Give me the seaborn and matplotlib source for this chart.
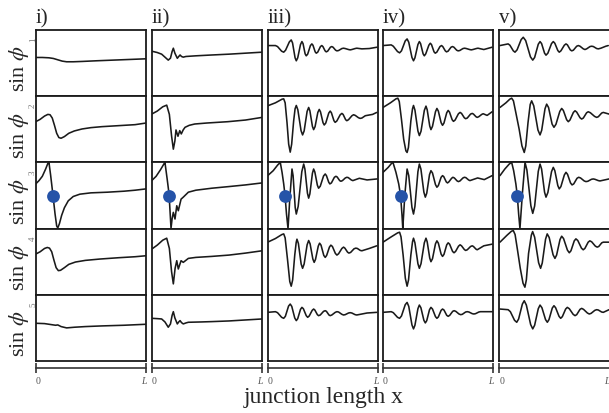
import matplotlib
matplotlib.use('Agg')
import matplotlib.pyplot as plt
import seaborn as sns

# ---- data: (x in units of L, sin(phi) in panel units) ----
col_titles = ['i)', 'ii)', 'iii)', 'iv)', 'v)']
row_names = [r'sin $\phi$'] * 5
row_subs = ['1', '2', '3', '4', '5']

# column i
c1_r1 = [(0, 0.17), (0.06, 0.17), (0.12, 0.16), (0.16, 0.14), (0.2, 0.1), (0.24, 0.06), (0.28, 0.04), (0.34, 0.04),
         (0.42, 0.05), (0.55, 0.07), (0.7, 0.09), (0.85, 0.11), (1.0, 0.13)]
c1_r2 = [(0, 0.23), (0.04, 0.3), (0.08, 0.4), (0.11, 0.45), (0.13, 0.44), (0.15, 0.34), (0.17, 0.12), (0.19, -0.12),
         (0.21, -0.25), (0.23, -0.27), (0.26, -0.22), (0.3, -0.12), (0.35, -0.05), (0.42, 0.01), (0.5, 0.05),
         (0.6, 0.08), (0.75, 0.11), (0.9, 0.14), (1.0, 0.19)]
c1_r3 = [(0, 0.35), (0.03, 0.45), (0.06, 0.58), (0.09, 0.8), (0.11, 0.97), (0.12, 1.0), (0.135, 0.62), (0.155, 0.05),
         (0.175, -0.55), (0.19, -0.92), (0.2, -0.98), (0.215, -0.85), (0.235, -0.6), (0.26, -0.37), (0.295, -0.16),
         (0.34, -0.03), (0.4, 0.04), (0.5, 0.08), (0.65, 0.1), (0.8, 0.13), (0.9, 0.16), (1.0, 0.2)]
c1_r4 = [(0, 0.23), (0.04, 0.3), (0.08, 0.4), (0.105, 0.43), (0.125, 0.41), (0.145, 0.3), (0.165, 0.05), (0.185, -0.18),
         (0.205, -0.27), (0.225, -0.26), (0.26, -0.18), (0.3, -0.08), (0.36, -0.01), (0.45, 0.04), (0.58, 0.08),
         (0.75, 0.12), (0.9, 0.15), (1.0, 0.18)]
c1_r5 = [(0, 0.14), (0.08, 0.13), (0.14, 0.1), (0.18, 0.08), (0.2, 0.09), (0.23, 0.04), (0.28, 0.0), (0.35, 0.02),
         (0.45, 0.04), (0.6, 0.06), (0.8, 0.08), (1.0, 0.11)]

# column ii
c2_r1 = [(0, 0.36), (0.05, 0.32), (0.09, 0.27), (0.12, 0.18), (0.15, 0.09), (0.17, 0.15), (0.185, 0.35), (0.196, 0.45),
         (0.21, 0.3), (0.232, 0.145), (0.245, 0.2), (0.257, 0.245), (0.27, 0.2), (0.286, 0.18), (0.31, 0.2),
         (0.332, 0.205), (0.4, 0.22), (0.544, 0.245), (0.7, 0.27), (0.85, 0.3), (1.0, 0.33)]
c2_r2 = [(0, 0.46), (0.05, 0.55), (0.1, 0.68), (0.136, 0.73), (0.16, 0.45), (0.18, -0.2), (0.196, -0.6), (0.21, -0.35),
         (0.22, -0.02), (0.238, -0.21), (0.254, -0.04), (0.268, -0.14), (0.285, -0.02), (0.302, 0.06), (0.34, 0.12),
         (0.39, 0.16), (0.5, 0.19), (0.69, 0.23), (0.85, 0.28), (1.0, 0.36)]
c2_r3 = [(0, 0.45), (0.04, 0.58), (0.08, 0.78), (0.11, 0.95), (0.12, 1.0), (0.14, 0.5), (0.157, 0.05), (0.175, -0.99),
         (0.185, -0.7), (0.196, -0.51), (0.211, -0.71), (0.227, -0.31), (0.241, -0.46), (0.266, -0.11), (0.286, -0.05),
         (0.332, 0.1), (0.4, 0.16), (0.544, 0.22), (0.7, 0.27), (0.85, 0.32), (1.0, 0.38)]
c2_r4 = [(0, 0.38), (0.05, 0.5), (0.1, 0.65), (0.136, 0.71), (0.16, 0.4), (0.18, -0.3), (0.196, -0.67), (0.212, -0.2),
         (0.227, 0.03), (0.241, -0.22), (0.266, 0.03), (0.286, -0.02), (0.332, 0.1), (0.4, 0.13), (0.544, 0.16),
         (0.7, 0.2), (0.85, 0.26), (1.0, 0.33)]
c2_r5 = [(0, 0.29), (0.05, 0.28), (0.09, 0.27), (0.12, 0.18), (0.15, 0.02), (0.17, 0.12), (0.185, 0.38), (0.196, 0.49),
         (0.21, 0.3), (0.232, 0.12), (0.245, 0.18), (0.257, 0.22), (0.27, 0.16), (0.286, 0.12), (0.31, 0.15),
         (0.332, 0.17), (0.45, 0.18), (0.544, 0.19), (0.7, 0.21), (0.85, 0.24), (1.0, 0.27)]

# column iii
c3_r1 = [(0, 0.53), (0.07, 0.53), (0.089, 0.5), (0.126, 0.36), (0.145, 0.33), (0.162, 0.39), (0.196, 0.64), (0.213, 0.7),
         (0.225, 0.61), (0.248, 0.16), (0.259, 0.07), (0.272, 0.16), (0.297, 0.56), (0.31, 0.65), (0.32, 0.59),
         (0.339, 0.28), (0.349, 0.22), (0.362, 0.27), (0.387, 0.53), (0.4, 0.58), (0.41, 0.54), (0.43, 0.34),
         (0.44, 0.3), (0.453, 0.33), (0.478, 0.5), (0.49, 0.53), (0.5, 0.5), (0.52, 0.37), (0.53, 0.34), (0.543, 0.36),
         (0.568, 0.48), (0.58, 0.5), (0.592, 0.48), (0.615, 0.39), (0.627, 0.37), (0.642, 0.38), (0.672, 0.44),
         (0.687, 0.45), (0.702, 0.44), (0.732, 0.41), (0.747, 0.4), (0.762, 0.41), (0.792, 0.44), (0.807, 0.45),
         (0.853, 0.43), (0.92, 0.44), (0.99, 0.48)]
c3_r2 = [(0, 0.71), (0.07, 0.8), (0.13, 0.91), (0.145, 0.92), (0.158, 0.8), (0.175, 0.2), (0.19, -0.45), (0.204, -0.69),
         (0.217, -0.45), (0.235, 0.25), (0.248, 0.62), (0.259, 0.72), (0.273, 0.59), (0.302, -0.04), (0.316, -0.17),
         (0.33, -0.05), (0.357, 0.54), (0.371, 0.66), (0.382, 0.56), (0.405, 0.09), (0.416, -0.01), (0.429, 0.08),
         (0.454, 0.51), (0.467, 0.6), (0.478, 0.53), (0.501, 0.2), (0.512, 0.13), (0.526, 0.19), (0.553, 0.49),
         (0.566, 0.55), (0.577, 0.5), (0.6, 0.26), (0.611, 0.21), (0.626, 0.25), (0.657, 0.44), (0.672, 0.48),
         (0.683, 0.45), (0.706, 0.29), (0.717, 0.26), (0.732, 0.29), (0.763, 0.41), (0.778, 0.44), (0.793, 0.42),
         (0.822, 0.35), (0.837, 0.33), (0.853, 0.34), (0.884, 0.41), (0.9, 0.42), (0.95, 0.45), (0.988, 0.51)]
c3_r3 = [(0, 0.6), (0.05, 0.75), (0.09, 0.92), (0.114, 1.0), (0.13, 0.7), (0.145, 0.35), (0.157, 0.0), (0.17, -0.55),
         (0.184, -1.0), (0.2, -0.1), (0.22, 0.8), (0.23, 0.6), (0.249, -0.36), (0.259, -0.56), (0.276, -0.33),
         (0.309, 0.72), (0.326, 0.95), (0.337, 0.8), (0.36, 0.07), (0.371, -0.08), (0.382, 0.05), (0.405, 0.67),
         (0.416, 0.8), (0.427, 0.71), (0.45, 0.31), (0.461, 0.22), (0.476, 0.28), (0.506, 0.59), (0.521, 0.65),
         (0.532, 0.6), (0.553, 0.4), (0.563, 0.35), (0.577, 0.38), (0.604, 0.55), (0.618, 0.58), (0.629, 0.56),
         (0.652, 0.45), (0.663, 0.43), (0.677, 0.45), (0.703, 0.53), (0.717, 0.55), (0.73, 0.54), (0.757, 0.47),
         (0.771, 0.45), (0.83, 0.52), (0.9, 0.47), (0.99, 0.5)]
c3_r4 = [(0, 0.59), (0.07, 0.7), (0.128, 0.82), (0.145, 0.84), (0.158, 0.72), (0.18, 0.05), (0.2, -0.6), (0.213, -0.74),
         (0.226, -0.55), (0.245, 0.2), (0.258, 0.58), (0.265, 0.68), (0.278, 0.55), (0.303, -0.07), (0.316, -0.2),
         (0.33, -0.07), (0.357, 0.51), (0.371, 0.64), (0.384, 0.54), (0.409, 0.08), (0.421, -0.02), (0.433, 0.07),
         (0.458, 0.47), (0.47, 0.56), (0.483, 0.5), (0.508, 0.19), (0.521, 0.13), (0.534, 0.19), (0.559, 0.44),
         (0.572, 0.5), (0.586, 0.46), (0.613, 0.25), (0.627, 0.2), (0.642, 0.24), (0.672, 0.4), (0.687, 0.44),
         (0.699, 0.41), (0.723, 0.29), (0.735, 0.26), (0.751, 0.28), (0.782, 0.39), (0.798, 0.41), (0.812, 0.4),
         (0.839, 0.34), (0.853, 0.33), (0.92, 0.4), (0.988, 0.48)]
c3_r5 = [(0, 0.47), (0.07, 0.49), (0.089, 0.46), (0.126, 0.32), (0.145, 0.29), (0.16, 0.35), (0.189, 0.66), (0.204, 0.72),
         (0.218, 0.65), (0.245, 0.3), (0.259, 0.22), (0.272, 0.28), (0.297, 0.56), (0.31, 0.62), (0.323, 0.58),
         (0.349, 0.37), (0.362, 0.32), (0.376, 0.36), (0.403, 0.53), (0.416, 0.57), (0.427, 0.54), (0.45, 0.4),
         (0.461, 0.37), (0.476, 0.39), (0.506, 0.5), (0.521, 0.52), (0.532, 0.5), (0.555, 0.39), (0.566, 0.37),
         (0.581, 0.39), (0.612, 0.47), (0.627, 0.49), (0.642, 0.48), (0.672, 0.41), (0.687, 0.39), (0.702, 0.4),
         (0.732, 0.45), (0.747, 0.46), (0.762, 0.45), (0.792, 0.4), (0.807, 0.39), (0.9, 0.45), (0.988, 0.47)]

# column iv
c4_r1 = [(0.003, 0.53), (0.077, 0.55), (0.096, 0.51), (0.134, 0.35), (0.153, 0.31), (0.17, 0.37), (0.204, 0.67),
         (0.221, 0.73), (0.236, 0.63), (0.265, 0.17), (0.279, 0.07), (0.292, 0.16), (0.319, 0.56), (0.332, 0.65),
         (0.343, 0.59), (0.366, 0.28), (0.377, 0.22), (0.39, 0.28), (0.418, 0.54), (0.431, 0.6), (0.442, 0.56),
         (0.465, 0.34), (0.476, 0.3), (0.49, 0.33), (0.519, 0.5), (0.533, 0.53), (0.544, 0.5), (0.567, 0.37),
         (0.578, 0.34), (0.592, 0.36), (0.619, 0.48), (0.632, 0.5), (0.645, 0.48), (0.67, 0.39), (0.683, 0.37),
         (0.698, 0.38), (0.727, 0.44), (0.742, 0.45), (0.757, 0.44), (0.787, 0.41), (0.802, 0.4), (0.817, 0.41),
         (0.848, 0.44), (0.863, 0.45), (0.916, 0.41), (0.991, 0.48)]
c4_r2 = [(0.003, 0.66), (0.07, 0.8), (0.12, 0.92), (0.137, 0.94), (0.15, 0.84), (0.17, 0.3), (0.19, -0.3), (0.21, -0.65),
         (0.221, -0.7), (0.233, -0.55), (0.255, 0.25), (0.27, 0.62), (0.279, 0.72), (0.292, 0.58), (0.319, -0.05),
         (0.332, -0.19), (0.347, -0.06), (0.377, 0.57), (0.392, 0.7), (0.403, 0.59), (0.426, 0.1), (0.437, -0.01),
         (0.451, 0.09), (0.478, 0.53), (0.491, 0.63), (0.504, 0.55), (0.529, 0.2), (0.542, 0.12), (0.555, 0.19),
         (0.58, 0.5), (0.593, 0.57), (0.605, 0.52), (0.629, 0.29), (0.641, 0.24), (0.656, 0.28), (0.686, 0.47),
         (0.701, 0.51), (0.714, 0.48), (0.739, 0.35), (0.751, 0.32), (0.766, 0.34), (0.796, 0.46), (0.811, 0.48),
         (0.822, 0.46), (0.845, 0.38), (0.856, 0.36), (0.87, 0.38), (0.897, 0.45), (0.91, 0.47), (0.946, 0.42),
         (0.991, 0.53)]
c4_r3 = [(0.003, 0.7), (0.05, 0.85), (0.08, 0.97), (0.093, 1.0), (0.12, 0.7), (0.145, 0.35), (0.162, 0.0), (0.175, -0.6),
         (0.182, -1.0), (0.2, 0.0), (0.221, 0.8), (0.236, 0.6), (0.265, -0.36), (0.279, -0.56), (0.292, -0.33),
         (0.319, 0.72), (0.332, 0.95), (0.346, 0.8), (0.373, 0.1), (0.386, -0.05), (0.399, 0.07), (0.424, 0.63),
         (0.437, 0.75), (0.451, 0.68), (0.478, 0.33), (0.491, 0.25), (0.504, 0.3), (0.529, 0.55), (0.542, 0.6),
         (0.553, 0.57), (0.576, 0.41), (0.587, 0.38), (0.599, 0.41), (0.624, 0.52), (0.636, 0.55), (0.649, 0.53),
         (0.674, 0.44), (0.686, 0.42), (0.7, 0.44), (0.727, 0.53), (0.74, 0.55), (0.753, 0.54), (0.778, 0.47),
         (0.79, 0.45), (0.86, 0.53), (0.92, 0.48), (0.991, 0.6)]
c4_r4 = [(0.003, 0.59), (0.077, 0.75), (0.135, 0.87), (0.153, 0.89), (0.166, 0.75), (0.185, 0.2), (0.205, -0.5),
         (0.221, -0.74), (0.234, -0.55), (0.255, 0.2), (0.27, 0.6), (0.279, 0.71), (0.292, 0.57), (0.319, -0.06),
         (0.332, -0.2), (0.347, -0.06), (0.377, 0.57), (0.392, 0.71), (0.403, 0.6), (0.426, 0.11), (0.437, 0.0),
         (0.451, 0.09), (0.478, 0.54), (0.491, 0.63), (0.504, 0.56), (0.529, 0.23), (0.542, 0.16), (0.555, 0.22),
         (0.58, 0.51), (0.593, 0.57), (0.606, 0.53), (0.633, 0.31), (0.646, 0.27), (0.66, 0.31), (0.687, 0.47),
         (0.701, 0.51), (0.714, 0.48), (0.739, 0.37), (0.751, 0.34), (0.766, 0.36), (0.796, 0.46), (0.811, 0.48),
         (0.822, 0.46), (0.845, 0.38), (0.856, 0.36), (0.916, 0.48), (0.991, 0.53)]
c4_r5 = [(0.003, 0.47), (0.077, 0.49), (0.096, 0.46), (0.134, 0.32), (0.153, 0.29), (0.17, 0.36), (0.204, 0.7),
         (0.221, 0.77), (0.236, 0.65), (0.265, 0.09), (0.279, -0.03), (0.292, 0.08), (0.319, 0.58), (0.332, 0.69),
         (0.346, 0.61), (0.373, 0.23), (0.386, 0.15), (0.399, 0.22), (0.424, 0.55), (0.437, 0.62), (0.451, 0.57),
         (0.478, 0.34), (0.491, 0.29), (0.504, 0.33), (0.529, 0.53), (0.542, 0.57), (0.555, 0.54), (0.58, 0.38),
         (0.593, 0.35), (0.607, 0.38), (0.634, 0.5), (0.647, 0.52), (0.662, 0.5), (0.691, 0.42), (0.706, 0.4),
         (0.721, 0.41), (0.751, 0.48), (0.766, 0.49), (0.781, 0.48), (0.811, 0.43), (0.826, 0.42), (0.841, 0.43),
         (0.871, 0.48), (0.886, 0.49), (0.991, 0.49)]

# column v
c5_r1 = [(0.006, 0.53), (0.08, 0.58), (0.096, 0.54), (0.127, 0.37), (0.142, 0.33), (0.161, 0.4), (0.198, 0.71),
         (0.217, 0.78), (0.239, 0.68), (0.282, 0.19), (0.303, 0.09), (0.32, 0.17), (0.353, 0.57), (0.369, 0.65),
         (0.383, 0.59), (0.41, 0.3), (0.423, 0.24), (0.44, 0.3), (0.473, 0.59), (0.489, 0.65), (0.503, 0.6),
         (0.53, 0.38), (0.543, 0.33), (0.558, 0.37), (0.589, 0.54), (0.604, 0.58), (0.617, 0.55), (0.643, 0.4),
         (0.656, 0.37), (0.671, 0.39), (0.701, 0.51), (0.716, 0.53), (0.731, 0.51), (0.761, 0.43), (0.776, 0.41),
         (0.791, 0.43), (0.822, 0.5), (0.837, 0.51), (0.852, 0.5), (0.882, 0.44), (0.897, 0.43), (0.92, 0.45),
         (0.965, 0.51), (0.987, 0.53)]
c5_r2 = [(0.006, 0.66), (0.06, 0.8), (0.095, 0.91), (0.112, 0.94), (0.128, 0.86), (0.15, 0.5), (0.18, 0.0),
         (0.205, -0.5), (0.226, -0.7), (0.24, -0.5), (0.26, 0.2), (0.28, 0.75), (0.293, 0.86), (0.312, 0.71),
         (0.35, -0.02), (0.369, -0.17), (0.384, -0.03), (0.414, 0.62), (0.429, 0.76), (0.446, 0.66), (0.478, 0.16),
         (0.495, 0.06), (0.513, 0.15), (0.548, 0.54), (0.565, 0.63), (0.58, 0.57), (0.61, 0.29), (0.625, 0.23),
         (0.64, 0.28), (0.671, 0.51), (0.686, 0.56), (0.701, 0.52), (0.731, 0.35), (0.746, 0.31), (0.761, 0.34),
         (0.791, 0.5), (0.806, 0.53), (0.825, 0.5), (0.863, 0.39), (0.882, 0.36), (0.897, 0.38), (0.927, 0.49),
         (0.942, 0.51), (0.994, 0.46)]
c5_r3 = [(0.006, 0.6), (0.05, 0.8), (0.09, 0.95), (0.112, 1.0), (0.13, 0.75), (0.15, 0.35), (0.163, 0.0),
         (0.175, -0.55), (0.187, -1.0), (0.21, 0.1), (0.233, 1.0), (0.25, 0.77), (0.286, -0.31), (0.303, -0.54),
         (0.32, -0.32), (0.353, 0.73), (0.369, 0.95), (0.383, 0.8), (0.41, 0.1), (0.423, -0.05), (0.44, 0.09),
         (0.473, 0.72), (0.489, 0.85), (0.503, 0.75), (0.53, 0.3), (0.543, 0.2), (0.558, 0.27), (0.589, 0.62),
         (0.604, 0.7), (0.618, 0.64), (0.645, 0.38), (0.659, 0.32), (0.674, 0.35), (0.704, 0.52), (0.719, 0.55),
         (0.736, 0.53), (0.769, 0.44), (0.785, 0.42), (0.802, 0.43), (0.835, 0.49), (0.851, 0.5), (0.866, 0.49),
         (0.897, 0.45), (0.912, 0.44), (0.994, 0.5)]
c5_r4 = [(0.006, 0.59), (0.07, 0.8), (0.11, 0.92), (0.127, 0.94), (0.143, 0.82), (0.165, 0.35), (0.19, -0.2),
         (0.215, -0.65), (0.232, -0.77), (0.245, -0.55), (0.265, 0.25), (0.29, 0.8), (0.302, 0.91), (0.32, 0.74),
         (0.356, -0.03), (0.374, -0.2), (0.389, -0.04), (0.419, 0.68), (0.434, 0.84), (0.452, 0.73), (0.487, 0.21),
         (0.504, 0.1), (0.519, 0.2), (0.55, 0.67), (0.565, 0.77), (0.582, 0.7), (0.617, 0.35), (0.634, 0.27),
         (0.649, 0.33), (0.679, 0.63), (0.694, 0.69), (0.711, 0.64), (0.744, 0.41), (0.76, 0.36), (0.775, 0.4),
         (0.805, 0.59), (0.82, 0.63), (0.837, 0.6), (0.87, 0.47), (0.887, 0.44), (0.901, 0.46), (0.928, 0.57),
         (0.942, 0.59), (0.994, 0.59)]
c5_r5 = [(0.006, 0.57), (0.08, 0.55), (0.1, 0.49), (0.138, 0.23), (0.158, 0.17), (0.175, 0.27), (0.209, 0.72),
         (0.226, 0.82), (0.245, 0.69), (0.284, 0.1), (0.303, -0.03), (0.32, 0.08), (0.353, 0.58), (0.369, 0.69),
         (0.386, 0.61), (0.419, 0.25), (0.435, 0.17), (0.45, 0.25), (0.48, 0.6), (0.495, 0.67), (0.51, 0.61),
         (0.541, 0.35), (0.556, 0.29), (0.571, 0.34), (0.601, 0.57), (0.616, 0.62), (0.634, 0.58), (0.669, 0.41),
         (0.686, 0.37), (0.701, 0.4), (0.731, 0.56), (0.746, 0.59), (0.763, 0.56), (0.798, 0.45), (0.815, 0.42),
         (0.832, 0.44), (0.865, 0.53), (0.882, 0.55), (0.897, 0.54), (0.927, 0.48), (0.942, 0.47), (0.994, 0.55)]

# marked point in the third row of every column
dot_x = [0.157, 0.157, 0.157, 0.162, 0.163]
dot_y = [0.0, 0.0, 0.0, 0.0, 0.0]

curves = [
    [c1_r1, c1_r2, c1_r3, c1_r4, c1_r5],
    [c2_r1, c2_r2, c2_r3, c2_r4, c2_r5],
    [c3_r1, c3_r2, c3_r3, c3_r4, c3_r5],
    [c4_r1, c4_r2, c4_r3, c4_r4, c4_r5],
    [c5_r1, c5_r2, c5_r3, c5_r4, c5_r5],
]

# ---- style ----
sns.set_theme(style='white')
plt.rcParams['font.family'] = ['Liberation Serif', 'DejaVu Serif']
plt.rcParams['mathtext.fontset'] = 'stix'

W, H = 609, 414
fig = plt.figure(figsize=(W / 100, H / 100), dpi=100)
fig.patch.set_facecolor('white')

# panel geometry in pixels
col_left = [35.7, 151.7, 267.7, 382.7, 499.3]
row_top = [31, 97.2, 163.4, 229.6, 295.8]
pw, ph = 110.4, 66.2
axis_y = 369

for j in range(5):
    for i in range(5):
        ax = fig.add_axes([col_left[j] / W, (H - row_top[i] - ph) / H, pw / W, ph / H])
        x, y = zip(*curves[j][i])
        sns.lineplot(x=list(x), y=list(y), ax=ax, color='#1a1a1a', linewidth=1.15,
                     sort=False, estimator=None, solid_joinstyle='round')
        if i == 2:
            sns.scatterplot(x=[dot_x[j]], y=[dot_y[j]], ax=ax, s=85, color='#2553a8',
                            zorder=5, clip_on=False, linewidth=0)
        ax.set_xlim(0, 1)
        ax.set_ylim(-1, 1)
        ax.set_xticks([])
        ax.set_yticks([])
        ax.set_xlabel('')
        ax.set_ylabel('')
        for s in ax.spines.values():
            s.set_linewidth(1.3)
            s.set_color('#1a1a1a')

    # scale bar 0 .. L under each column
    axb = fig.add_axes([col_left[j] / W, (H - axis_y) / H, pw / W, 0.001])
    axb.patch.set_visible(False)
    for side in ['top', 'left', 'right']:
        axb.spines[side].set_visible(False)
    axb.spines['bottom'].set_linewidth(1.2)
    axb.spines['bottom'].set_color('#333333')
    axb.set_xlim(0, 1)
    axb.set_yticks([])
    axb.set_xticks([0, 1])
    axb.set_xticklabels(['0', 'L'])
    axb.tick_params(axis='x', direction='inout', length=7, width=1.2, color='#333333',
                    pad=2, labelsize=7, labelcolor='#555555', bottom=True)
    lab0, labL = axb.get_xticklabels()
    lab0.set_horizontalalignment('left')
    labL.set_horizontalalignment('right')
    labL.set_fontstyle('italic')

    fig.text(col_left[j] / W, 1 - 23 / H, col_titles[j], fontsize=15, va='baseline', ha='left')

for i in range(5):
    yc = row_top[i] + ph / 2
    fig.text(19 / W, 1 - (yc + 5) / H, row_names[i], rotation=90,
             ha='center', va='center', fontsize=16)
    fig.text(33 / W, 1 - (yc - 24) / H, row_subs[i], rotation=90,
             ha='center', va='center', fontsize=6.5, color='#777777')

fig.text(324 / W, 1 - 398 / H, 'junction length x', ha='center', va='center', fontsize=17)

fig.savefig('out.png', dpi=100)
